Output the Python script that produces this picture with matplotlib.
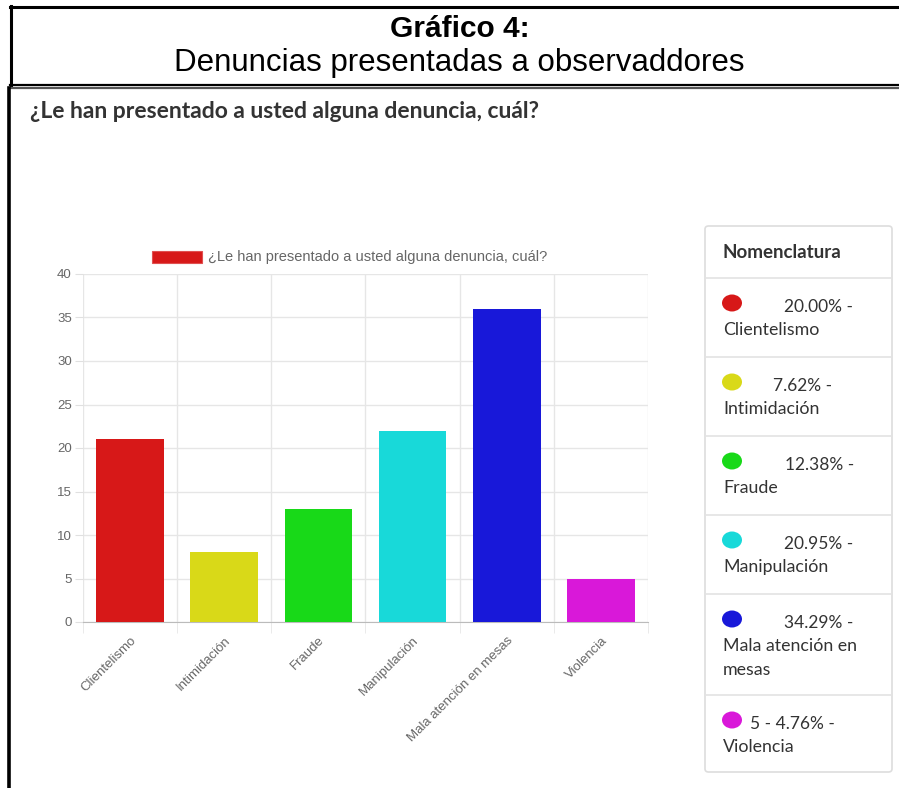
import numpy as np
import matplotlib.pyplot as plt
from matplotlib.patches import Rectangle, FancyBboxPatch, Ellipse
from matplotlib.lines import Line2D

# DATA

categories = ["Clientelismo", "Intimidación", "Fraude", "Manipulación",
              "Mala atención en mesas", "Violencia"]
counts = [21, 8, 13, 22, 36, 5]
colors = ["#d71818", "#d9d918", "#18d918", "#18d9d9", "#1818d9", "#d918d9"]

legend_pct = ["20.00% -", "7.62% -", "12.38% -", "20.95% -", "34.29% -", "5 - 4.76% -"]
legend_name = ["Clientelismo", "Intimidación", "Fraude", "Manipulación",
               "Mala atención en\nmesas", "Violencia"]

series_label = "¿Le han presentado a usted alguna denuncia, cuál?"

W, H = 899, 788

fig = plt.figure(figsize=(W / 100, H / 100), dpi=100)


def fx(x):
    return x / W


def fy(y):
    return 1 - y / H


# HEADER BOX

fig.add_artist(Line2D([fx(10), fx(899)], [fy(7), fy(7)], color="black", lw=2.2))
fig.add_artist(Line2D([fx(11), fx(11)], [fy(6), fy(86)], color="black", lw=2.2))
fig.add_artist(Line2D([fx(10), fx(899)], [fy(85), fy(85)], color="black", lw=1.6))
fig.add_artist(Line2D([fx(10), fx(899)], [fy(88), fy(88)], color="#555555", lw=1.6))
fig.add_artist(Line2D([fx(9), fx(9)], [fy(88), fy(788)], color="black", lw=2.6))

fig.text(fx(460), fy(29), "Gráfico 4:", ha="center", va="center",
         fontsize=21.5, fontweight="bold", family="Liberation Sans")
fig.text(fx(459), fy(63), "Denuncias presentadas a observaddores", ha="center",
         va="center", fontsize=22.5, family="Liberation Sans")

fig.text(fx(30), fy(112), series_label, ha="left", va="center",
         fontsize=16.5, fontweight="bold", family="Lato", color="#333333")

# BAR CHART

ax = fig.add_axes([fx(83), fy(622), fx(648) - fx(83), fy(274) - fy(622)])
x = np.arange(len(categories))
ax.bar(x, counts, width=0.72, color=colors, zorder=3)

ax.set_xlim(-0.5, len(categories) - 0.5)
ax.set_ylim(0, 40)
ax.set_yticks(range(0, 41, 5))
ax.set_xticks(x)
ax.set_xticklabels(categories, rotation=45, ha="right", rotation_mode="anchor",
                   fontsize=9.5, color="#666666", family="Liberation Sans")
ax.tick_params(axis="x", length=0, pad=9)
ax.tick_params(axis="y", length=6, color="#e0e0e0", labelsize=9.5,
               labelcolor="#666666", pad=2)
for lab in ax.get_yticklabels():
    lab.set_family("Liberation Sans")

ax.set_xticks(np.arange(-0.5, len(categories), 1), minor=True)
ax.tick_params(axis="x", which="minor", length=8, color="#e6e6e6")
ax.grid(True, which="minor", axis="x", color="#e6e6e6", lw=1, zorder=0)
ax.grid(True, which="major", axis="y", color="#e6e6e6", lw=1, zorder=0)

for side in ["top", "right", "left"]:
    ax.spines[side].set_visible(False)
ax.spines["bottom"].set_color("#bbbbbb")

# top legend
fig.add_artist(Rectangle((fx(152), fy(263)), fx(50), fy(251) - fy(263),
                         facecolor="#d71818", edgecolor="#e05050", lw=0.8))
fig.text(fx(208), fy(257), series_label, ha="left", va="center",
         fontsize=10.5, color="#666666", family="Liberation Sans")

# NOMENCLATURA PANEL

panel = FancyBboxPatch((fx(705), fy(772)), fx(892) - fx(705), fy(226) - fy(772),
                       boxstyle="round,pad=0,rounding_size=0.004",
                       facecolor="white", edgecolor="#dddddd", lw=1.2,
                       transform=fig.transFigure)
fig.add_artist(panel)

fig.text(fx(723), fy(252), "Nomenclatura", ha="left", va="center",
         fontsize=13.5, fontweight="bold", family="Lato", color="#333333")

row_tops = [278, 357, 436, 515, 594, 695]
pct_x = [784, 773, 785, 784, 784, 750]
for i in range(len(categories)):
    top = row_tops[i]
    fig.add_artist(Line2D([fx(705), fx(892)], [fy(top), fy(top)],
                          color="#e3e3e3", lw=1.2))
    fig.add_artist(Ellipse((fx(732), fy(top + 25)), 20 / W, 17 / H,
                           facecolor=colors[i], edgecolor="none",
                           transform=fig.transFigure))
    fig.text(fx(pct_x[i]), fy(top + 29), legend_pct[i], ha="left", va="center",
             fontsize=12.5, family="Lato", color="#333333")
    for k, line in enumerate(legend_name[i].split("\n")):
        fig.text(fx(723), fy(top + 52 + 24 * k), line, ha="left", va="center",
                 fontsize=12.8, family="Lato", color="#333333")

fig.savefig("out.png", dpi=100, facecolor="white")
